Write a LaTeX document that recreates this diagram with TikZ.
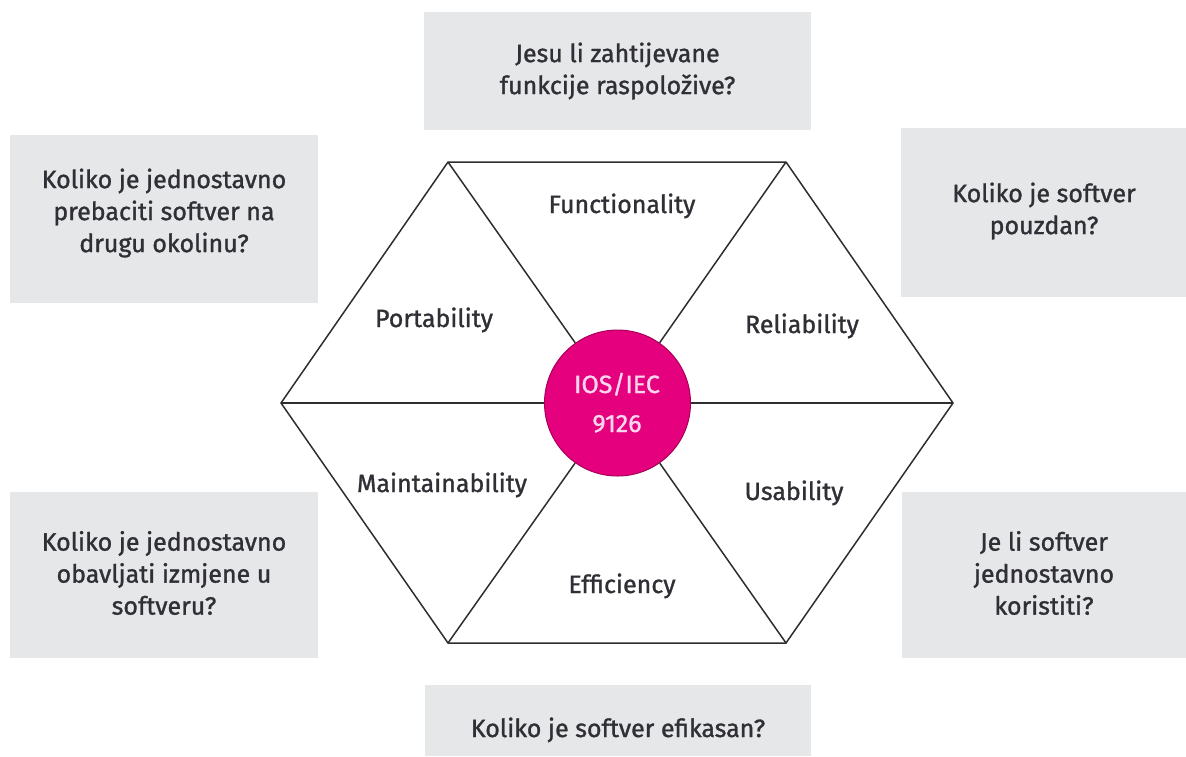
\documentclass[tikz,border=0pt]{standalone}
\usepackage{fontspec}
\setmainfont{Fira Sans}[FakeBold=1.2]
\definecolor{boxgray}{HTML}{E6E7E9}
\definecolor{txtgray}{HTML}{2F2F35}
\definecolor{linegray}{HTML}{2E2E30}
\definecolor{isomag}{HTML}{E5007D}
\definecolor{isomagdark}{HTML}{A80058}
\definecolor{isopink}{HTML}{FAD6EC}
\begin{document}
\begin{tikzpicture}[x=1pt,y=-1pt,
  font=\fontsize{25}{32}\selectfont,
  qbox/.style={fill=boxgray, draw=none, inner sep=0pt},
  qtext/.style={align=center, text=txtgray, inner sep=0pt},
  hexline/.style={draw=linegray, line width=1.5pt, line join=miter},
  seglabel/.style={anchor=base, text=txtgray, inner sep=0pt},
  isolabel/.style={anchor=base, text=isopink, inner sep=0pt}]
\useasboundingbox (0,0) rectangle (1186,756);
% question boxes
\node[qbox, minimum width=387pt, minimum height=118pt] (qtop) at (617.5,71) {};
\node[qtext] (ttop) at (617.5,71) {Jesu li zahtijevane\\funkcije raspoložive?};
\node[qbox, minimum width=308pt, minimum height=168pt] (qtl) at (164,219) {};
\node[qtext] (ttl) at (164,213) {Koliko je jednostavno\\prebaciti softver na\\drugu okolinu?};
\node[qbox, minimum width=285pt, minimum height=169pt] (qtr) at (1043.5,212.5) {};
\node[qtext] (ttr) at (1044,211) {Koliko je softver\\pouzdan?};
\node[qbox, minimum width=308pt, minimum height=166pt] (qbl) at (164,575) {};
\node[qtext] (tbl) at (164,573) {Koliko je jednostavno\\obavljati izmjene u\\softveru?};
\node[qbox, minimum width=284pt, minimum height=166pt] (qbr) at (1044,575) {};
\node[qtext] (tbr) at (1044,573) {Je li softver\\jednostavno\\koristiti?};
\node[qbox, minimum width=386pt, minimum height=71pt] (qbot) at (618,720.5) {};
\node[qtext, anchor=base] (tbot) at (618,737) {Koliko je softver efikasan?};
% hexagon vertices
\coordinate (vl) at (281,403);
\coordinate (vtl) at (448,162);
\coordinate (vtr) at (786,162);
\coordinate (vr) at (953,403);
\coordinate (vbr) at (786,643);
\coordinate (vbl) at (448,643);
\draw[hexline] (vl) -- (vtl) -- (vtr) -- (vr) -- (vbr) -- (vbl) -- cycle;
% centre circle
\node[circle, fill=isomag, draw=isomagdark, line width=1pt, minimum size=146pt, inner sep=0pt] (iso) at (617.5,403) {};
\foreach \v in {vl,vtl,vtr,vr,vbr,vbl} \draw[hexline] (iso) -- (\v);
\node[isolabel] (iso1) at (617,393) {IOS/IEC};
\node[isolabel] (iso2) at (617,432) {9126};
% segment labels
\node[seglabel] (lfun) at (622,213) {Functionality};
\node[seglabel] (lpor) at (434,327) {Portability};
\node[seglabel] (lrel) at (802,333) {Reliability};
\node[seglabel] (lmai) at (442,492) {Maintainability};
\node[seglabel] (lusa) at (794,500) {Usability};
\node[seglabel] (leff) at (622,593) {Efficiency};
\end{tikzpicture}
\end{document}
